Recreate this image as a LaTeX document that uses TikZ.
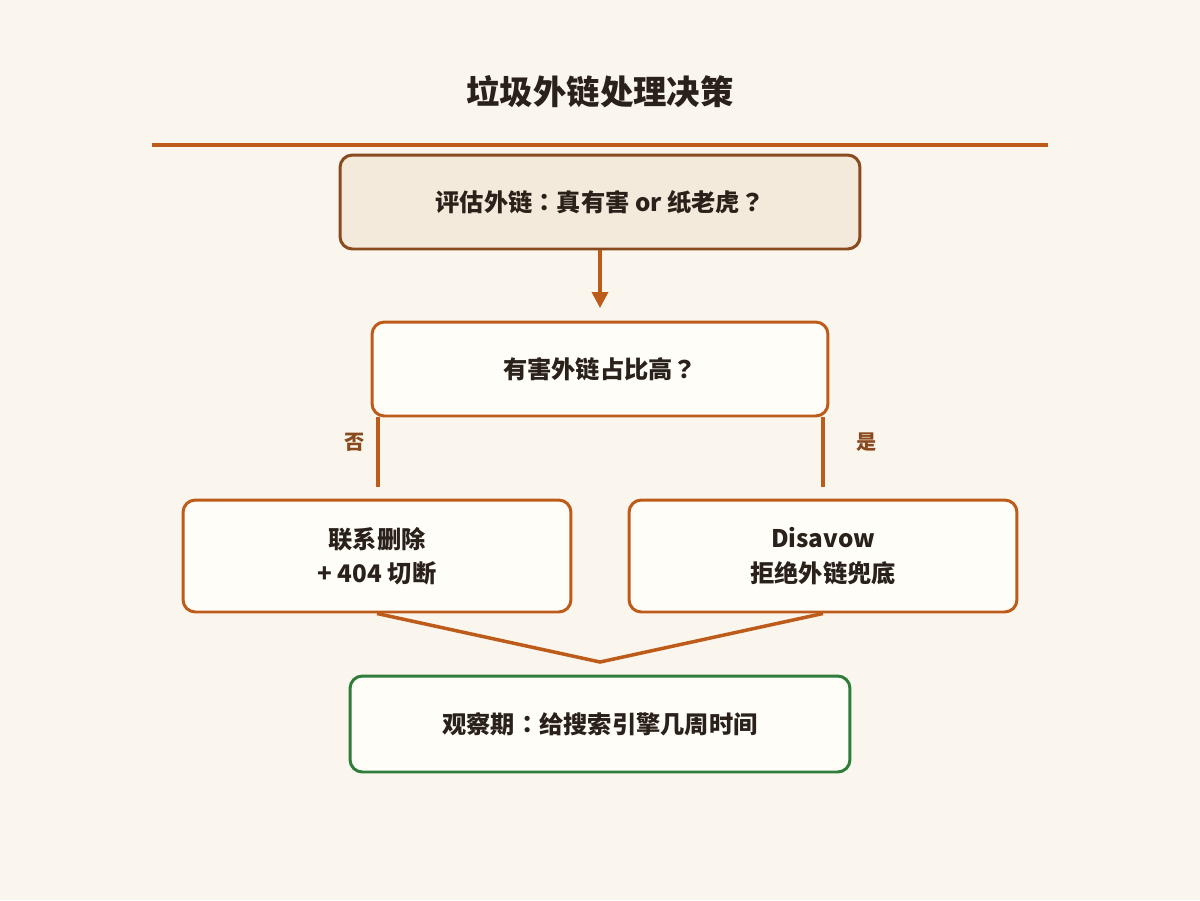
\documentclass[tikz,border=0pt]{standalone}
\usepackage{fontspec}
\setmainfont{Noto Sans CJK SC}
\newfontfamily\punctfont{Noto Sans CJK JP}
\usetikzlibrary{arrows.meta}

\definecolor{bgcream}{HTML}{FAF6EE}
\definecolor{evalfill}{HTML}{F3EADB}
\definecolor{darkedge}{HTML}{8A4A1F}
\definecolor{rustedge}{HTML}{BD5C1A}
\definecolor{greenedge}{HTML}{2F7D3B}
\definecolor{inkdark}{HTML}{2A211A}
\definecolor{boxwhite}{HTML}{FFFDF8}

\newcommand{\fwq}{{\punctfont ？}}
\newcommand{\fwc}{{\punctfont ：}}

\tikzset{
  box/.style={rectangle, rounded corners=7pt, draw=rustedge, line width=1.7pt, fill=boxwhite,
              text=inkdark, align=center, font=\fontsize{13.8}{19.5}\selectfont\bfseries},
  link/.style={draw=rustedge, line width=2pt},
  branch/.style={text=darkedge, font=\fontsize{11.5}{14}\selectfont\bfseries}
}

\begin{document}
\begin{tikzpicture}[x=0.02cm, y=-0.02cm]
      \fill[bgcream] (0,0) rectangle (1200,900);
      \useasboundingbox (0,0) rectangle (1200,900);

      \node[text=inkdark, font=\fontsize{19}{22}\selectfont\bfseries] (title) at (600,92) {垃圾外链处理决策};
      \coordinate (ruleL) at (152,145);
      \coordinate (ruleR) at (1048,145);
      \draw[rustedge, line width=2.3pt] (ruleL) -- (ruleR);

      \node[box, draw=darkedge, fill=evalfill, minimum width=10.4cm, minimum height=1.88cm] (eval) at (600,202) {评估外链\fwc{}真有害 or 纸老虎\fwq};
      \node[box, minimum width=9.12cm, minimum height=1.88cm] (ratio) at (600,369) {有害外链占比高\fwq};
      \node[box, minimum width=7.76cm, minimum height=2.24cm] (remove) at (377,556) {联系删除\\+ 404 切断};
      \node[box, minimum width=7.76cm, minimum height=2.24cm] (disavow) at (823,556) {Disavow\\拒绝外链兜底};
      \node[box, draw=greenedge, minimum width=10cm, minimum height=1.92cm] (watch) at (600,724) {观察期\fwc{}给搜索引擎几周时间};

      \coordinate (ratioIn) at (600,308);
      \coordinate (noEnd) at (378,487);
      \coordinate (yesEnd) at (823,487);
      \coordinate (merge) at (600,662);

      \draw[link, -{Triangle[length=9pt, width=9pt]}] (eval) -- (ratioIn);
      \draw[link] (ratio.south -| noEnd) -- (noEnd);
      \draw[link] (ratio.south -| yesEnd) -- (yesEnd);
      \node[branch] (noLabel) at (355,442) {否};
      \node[branch] (yesLabel) at (867,442) {是};

      \draw[link] (remove.south) -- (merge) -- (disavow.south);
    \end{tikzpicture}
\end{document}
